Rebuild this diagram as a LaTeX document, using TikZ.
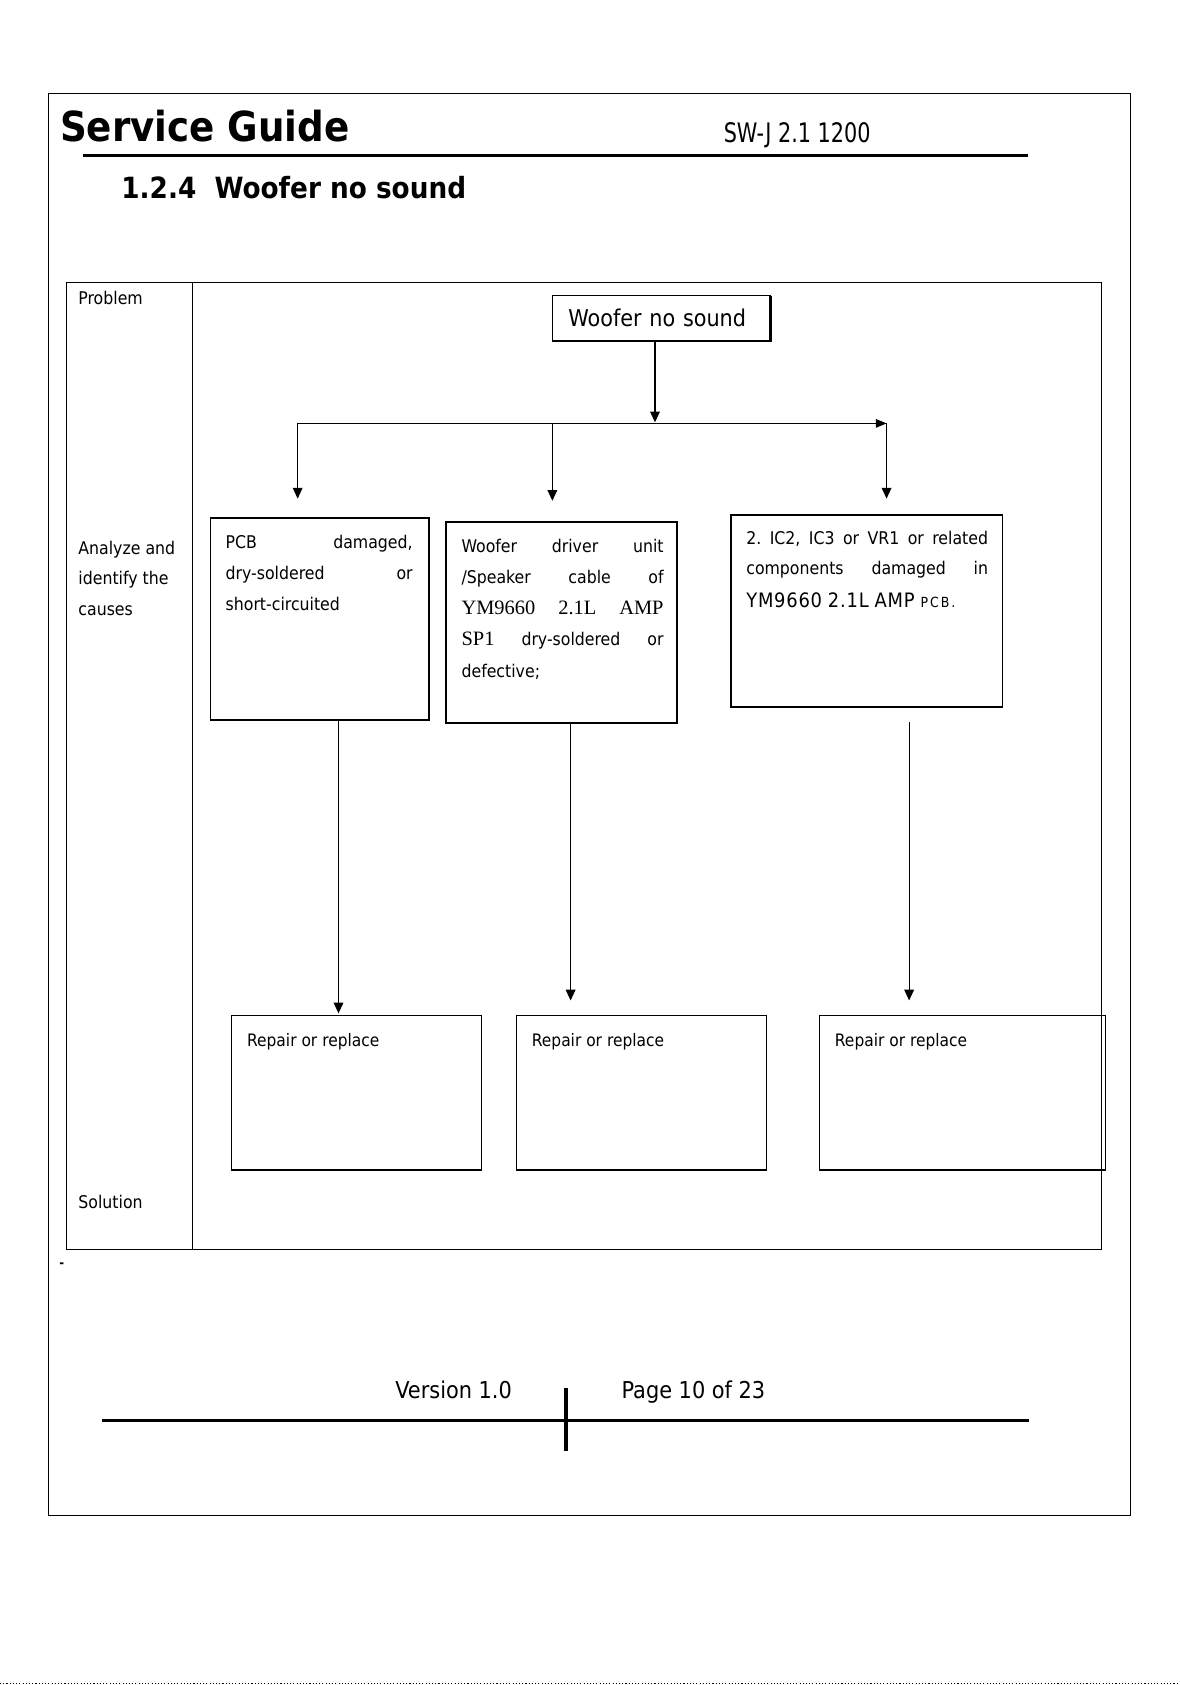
\documentclass[tikz,border=0pt]{standalone}
\usepackage{graphicx}
\usepackage{fontspec}
\setmainfont{DejaVu Sans Condensed}
\newfontfamily\serifrm{Liberation Serif}
\usetikzlibrary{arrows.meta}
\newcommand{\bodyfont}{\fontsize{16.3}{29}\selectfont}
\begin{document}
\begin{tikzpicture}[x=1pt,y=-1pt,
  every node/.style={inner sep=0pt, outer sep=0pt},
  arr/.style={line width=1pt, -{Triangle[length=10pt,width=9pt]}},
  boxx/.style={draw, line width=1.6pt, anchor=north west},
  solbox/.style={draw, line width=0.9pt, anchor=north west},
  bodytxt/.style={anchor=base west, align=left, font=\bodyfont},
  reptxt/.style={anchor=base west, font=\fontsize{16}{18}\selectfont},
  tline/.style={line width=0.9pt}
]
\useasboundingbox (0,0) rectangle (1098,1568);

% page border
\draw[tline] (45,87) rectangle (1052,1410);

% header
\node[anchor=base west, font=\bfseries\fontsize{38.5}{40}\selectfont] (title) at (56,132) {Service Guide};
\node[anchor=base west, font=\fontsize{25}{28}\selectfont] (model) at (673.5,132.5) {\scalebox{0.86}[1]{SW-J 2.1 1200}};
\draw[line width=3pt] (77.5,144.5) -- (957,144.5);
\node[anchor=base west, font=\bfseries\fontsize{27.2}{30}\selectfont] (sec) at (113,184.5) {1.2.4\ \ Woofer no sound};

% table
\draw[tline] (62,263) rectangle (1025,1163);
\draw[tline] (179,263) -- (179,1163);
\node[bodytxt] (lp) at (73,283) {Problem};
\node[bodytxt, font=\fontsize{16.3}{28.3}\selectfont] (la) at (73,572.5) {Analyze and\\identify the\\causes};
\node[bodytxt] (ls) at (73,1125) {Solution};

% top box
\node[draw, line width=1.2pt, minimum width=203pt, minimum height=42pt, anchor=north west,
      inner xsep=15pt, text width=173pt, align=left,
      font=\fontsize{21.5}{24}\selectfont] (top) at (514,275) {Woofer no sound};
\draw[line width=2pt] (top.north east) -- (top.south east) -- (top.south west);

% junction
\coordinate (j0) at (609.5,393);
\coordinate (jl) at (277,394);
\coordinate (jm) at (514,394);
\coordinate (jr) at (825,394);
\coordinate (al) at (277,464);
\coordinate (am) at (514,466);
\coordinate (ar) at (825,464);
\draw[arr] (top.south -| j0) -- (j0);
\draw[line width=1pt, -{Triangle[length=10pt,width=8pt]}] (jl) -- (jr);
\draw[arr] (jl) -- (al);
\draw[arr] (jm) -- (am);
\draw[arr] (jr) -- (ar);

% cause boxes
\node[boxx, minimum width=203pt, minimum height=188pt] (b1) at (196,482) {};
\node[boxx, minimum width=215pt, minimum height=187pt] (b2) at (415,486) {};
\node[boxx, minimum width=253pt, minimum height=179pt] (b3) at (680,479) {};

\node[bodytxt, text width=174pt] (t1) at (210,510)
  {PCB\hfill damaged,\\dry-soldered\hfill or\\short-circuited};
\node[bodytxt, text width=188pt] (t2) at (429.5,514)
  {Woofer\hfill driver\hfill unit\\
   /Speaker\hfill cable\hfill of\\
   {\serifrm\fontsize{19}{29}\selectfont YM9660\hfill 2.1L\hfill AMP}\\
   {\serifrm\fontsize{19}{29}\selectfont SP1}\hfill dry-soldered\hfill or\\
   defective;};
\node[bodytxt, text width=225pt, font=\fontsize{16.3}{28.5}\selectfont] (t3) at (694.5,506.5)
  {2.\hfill IC2,\hfill IC3\hfill or\hfill VR1\hfill or\hfill related\\
   components\hfill damaged\hfill in\\[2pt]
   {\fontsize{18.5}{28.5}\selectfont\addfontfeature{LetterSpace=4}YM9660 2.1L AMP} {\fontsize{13}{28.5}\selectfont\addfontfeature{LetterSpace=14}PCB.}};

% solution boxes
\node[solbox, minimum width=233pt, minimum height=144pt] (s1) at (215,945) {};
\node[solbox, minimum width=232pt, minimum height=144pt] (s2) at (481,945) {};
\node[solbox, minimum width=266pt, minimum height=144pt] (s3) at (763,945) {};
\foreach \s in {s1,s2,s3}{
  \draw[line width=2pt] (\s.south west) -- (\s.south east);
  \draw[line width=1.3pt] (\s.north east) -- (\s.south east);
}
\node[reptxt] (r1) at (230,974) {Repair or replace};
\node[reptxt] (r2) at (495,974) {Repair or replace};
\node[reptxt] (r3) at (777,974) {Repair or replace};

% lower arrows
\coordinate (c1) at (315,943);
\coordinate (c2) at (531,931);
\coordinate (d3) at (846,672);
\coordinate (c3) at (846,931);
\draw[arr] (b1.south -| c1) -- (c1);
\draw[arr] (b2.south -| c2) -- (c2);
\draw[arr] (d3) -- (c3);

% stray dash
\node[font=\bfseries\fontsize{12}{14}\selectfont] (dash) at (57.5,1177) {-};

% footer
\node[anchor=base west, font=\fontsize{21.6}{24}\selectfont] (ver) at (368,1301) {Version 1.0};
\node[anchor=base west, font=\fontsize{21.6}{24}\selectfont] (pg) at (578.5,1301) {Page 10 of 23};
\draw[line width=3pt] (95,1322) -- (958,1322);
\draw[line width=3.5pt] (526.4,1292) -- (526.4,1350);

% bottom dotted edge
\draw[dotted, line width=1pt] (0,1566.5) -- (1098,1566.5);
\end{tikzpicture}
\end{document}
